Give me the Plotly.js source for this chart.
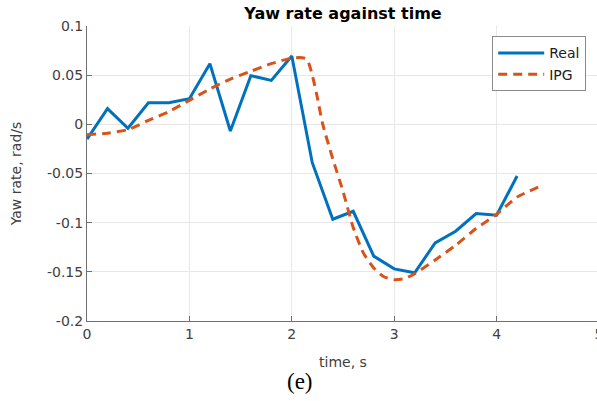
<!DOCTYPE html>
<html>
<head>
<meta charset="utf-8">
<script src="https://cdn.plot.ly/plotly-3.0.1.min.js"></script>
<style>
html, body { margin: 0; padding: 0; overflow: hidden; background: #fff; }
#chart { width: 610px; height: 401px; }
</style>
</head>
<body>
<div id="chart"></div>
<script>
// Real measured yaw rate
const realTime = [0, 0.2, 0.4, 0.6, 0.8, 1.0, 1.2, 1.4, 1.6, 1.8, 2.0, 2.2, 2.4, 2.6, 2.8, 3.0, 3.2, 3.4, 3.6, 3.8, 4.0, 4.2];
const realYaw = [-0.015, 0.016, -0.004, 0.022, 0.022, 0.026, 0.0617, -0.0068, 0.0495, 0.0447, 0.0694, -0.039, -0.0965, -0.0884, -0.134, -0.147, -0.151, -0.1206, -0.1087, -0.0907, -0.0925, -0.0525];

// IPG simulated yaw rate
const ipgTime = [0, 0.2, 0.4, 0.6, 0.8, 1.0, 1.2, 1.4, 1.6, 1.8, 2.0, 2.1, 2.15, 2.2, 2.25, 2.3, 2.4, 2.5, 2.6, 2.7, 2.8, 2.9, 3.0, 3.1, 3.2, 3.4, 3.6, 3.8, 4.0, 4.2, 4.45];
const ipgYaw = [-0.0105, -0.009, -0.0054, 0.004, 0.013, 0.0244, 0.036, 0.046, 0.054, 0.0617, 0.0674, 0.0678, 0.066, 0.05, 0.027, 0.001, -0.035, -0.068, -0.105, -0.131, -0.146, -0.155, -0.158, -0.157, -0.152, -0.138, -0.123, -0.106, -0.0915, -0.074, -0.062];

const xTicks = [0, 1, 2, 3, 4, 5];
const yTickVals = [0.1, 0.05, 0, -0.05, -0.1, -0.15, -0.2];
const yTickText = ["0.1", "0.05", "0", "-0.05", "-0.1", "-0.15", "-0.2"];

const font = "DejaVu Sans, Liberation Sans, Arial, sans-serif";

const traces = [
  {
    x: realTime, y: realYaw, name: "Real", type: "scatter", mode: "lines",
    line: { color: "#0072BD", width: 3 }
  },
  {
    x: ipgTime, y: ipgYaw, name: "IPG", type: "scatter", mode: "lines",
    line: { color: "#D95319", width: 3, dash: "9px,6px", shape: "spline", smoothing: 0.6 }
  }
];

const layout = {
  width: 610, height: 401,
  margin: { l: 87, r: 11, t: 26, b: 80 },
  paper_bgcolor: "#fff", plot_bgcolor: "#fff",
  font: { family: font, size: 14, color: "#404040" },
  showlegend: true,
  title: {
    text: "<b>Yaw rate against time</b>",
    font: { family: font, size: 16, color: "#000" },
    x: 0.5, xref: "paper", y: 1, yref: "container", yanchor: "top", pad: { t: 8 }
  },
  xaxis: {
    range: [0, 5], tickvals: xTicks, ticks: "inside", ticklen: 5, tickcolor: "#707070",
    showline: true, linecolor: "#707070", linewidth: 1, zeroline: false,
    showgrid: true, gridcolor: "#e8e8e8", gridwidth: 1,
    tickfont: { family: font, size: 14, color: "#404040" },
    title: { text: "time, s", standoff: 16, font: { family: font, size: 14, color: "#404040" } }
  },
  yaxis: {
    range: [-0.2, 0.1], tickvals: yTickVals, ticktext: yTickText,
    ticks: "inside", ticklen: 5, tickcolor: "#707070",
    showline: true, linecolor: "#707070", linewidth: 1, zeroline: false,
    showgrid: true, gridcolor: "#e8e8e8", gridwidth: 1,
    tickfont: { family: font, size: 14, color: "#404040" },
    title: { text: "Yaw rate, rad/s", standoff: 22, font: { family: font, size: 14, color: "#404040" } }
  },
  legend: {
    x: 0.975, xanchor: "right", y: 0.965, yanchor: "top",
    bgcolor: "#fff", bordercolor: "#8a8a8a", borderwidth: 1,
    itemwidth: 46, font: { family: font, size: 14, color: "#202020" },
    tracegroupgap: 0
  },
  annotations: [
    {
      text: "(e)", xref: "paper", yref: "paper", x: 0.416, y: -0.155,
      xanchor: "center", yanchor: "top", showarrow: false,
      font: { family: "Liberation Serif, Times New Roman, serif", size: 23, color: "#000" }
    }
  ]
};

Plotly.newPlot("chart", traces, layout, { displayModeBar: false, staticPlot: true });
</script>
</body>
</html>
